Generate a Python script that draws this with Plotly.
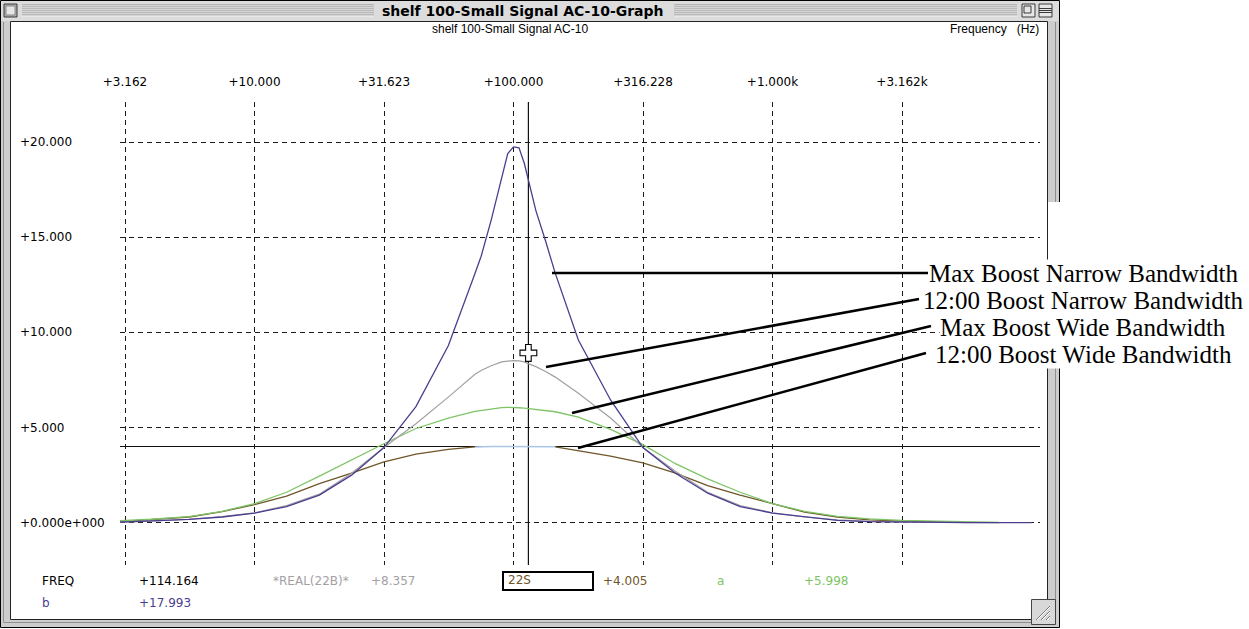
import plotly.graph_objects as go

W, H = 1249, 629

# ---------------- data ----------------
freq_hz = [3.0, 4.0, 5.6, 7.5, 10, 13.3, 17.8, 23.7, 31.6, 42, 56, 71, 75, 82, 90, 95,
           100, 105, 110, 114, 122, 133, 145, 178, 237, 316, 422, 562, 750, 1000,
           1330, 1780, 2370, 3162, 4220, 5620, 7500, 10000]

max_boost_narrow = [0.03, 0.08, 0.17, 0.30, 0.50, 0.85, 1.45, 2.50, 3.95, 6.10, 9.30, 13.1, 14.0,
                    15.9, 18.1, 19.4, 19.75, 19.7, 18.9, 17.99, 16.4, 14.8, 13.1, 9.6, 6.45,
                    3.95, 2.60, 1.55, 0.85, 0.50, 0.30, 0.12, 0.06, 0.03, 0.01, 0.0, 0.0, 0.0]

noon_boost_narrow = [0.03, 0.08, 0.18, 0.32, 0.52, 0.90, 1.50, 2.60, 3.95, 5.20, 6.60, 7.80, 8.00,
                     8.25, 8.45, 8.50, 8.52, 8.50, 8.45, 8.357, 8.20, 7.95, 7.65, 6.80, 5.50,
                     3.95, 2.70, 1.60, 0.90, 0.52, 0.30, 0.15, 0.07, 0.03, 0.01, 0.0, 0.0, None]

max_boost_wide = [0.10, 0.18, 0.32, 0.60, 1.00, 1.60, 2.45, 3.30, 4.15, 4.95, 5.50, 5.85, 5.90,
                  6.00, 6.05, 6.06, 6.06, 6.04, 6.02, 5.998, 5.95, 5.90, 5.83, 5.55, 4.90,
                  4.10, 3.10, 2.30, 1.60, 1.00, 0.60, 0.33, 0.20, 0.12, 0.08, 0.05, 0.02, None]

noon_boost_wide = [0.05, 0.15, 0.30, 0.58, 0.95, 1.40, 2.05, 2.60, 3.20, 3.60, 3.85, 3.98, 4.00,
                   4.00, 4.00, 4.00, 4.00, 4.00, 4.00, 4.005, 4.00, 4.00, 3.99, 3.80, 3.50,
                   3.15, 2.60, 1.95, 1.45, 1.00, 0.55, 0.30, 0.15, 0.08, 0.04, 0.02, None, None]

highlight_lo_hz, highlight_hi_hz = 71, 145   # selected (light blue) part of the 12:00 wide trace

x_tick_vals = [3.16228, 10, 31.6228, 100, 316.228, 1000, 3162.28]
x_tick_text = ["+3.162", "+10.000", "+31.623", "+100.000", "+316.228", "+1.000k", "+3.162k"]
y_tick_vals = [0, 5, 10, 15, 20]
y_tick_text = ["+0.000e+000", "+5.000", "+10.000", "+15.000", "+20.000"]

cursor_freq = 114.164
cursor_level = 4.005
pointer_level = 8.92

series_names = ["Max Boost Narrow Bandwidth", "12:00 Boost Narrow Bandwidth",
                "Max Boost Wide Bandwidth", "12:00 Boost Wide Bandwidth"]

# ---------------- styles ----------------
C_PURPLE = "#4b3d8f"
C_GRAY = "#a39fa3"
C_GREEN = "#7ec466"
C_BROWN = "#6e5628"
C_BLUE = "#a9c6e6"
UI_FONT = "DejaVu Sans"

# plot area in pixels
PX0, PX1, PY0, PY1 = 120, 1040, 102, 565
LOG_AT_PX = lambda px: 0.5 + (px - 125) / 259.0
VAL_AT_PY = lambda py: (522.7 - py) / 19.03


def fx(px):
    return px / W


def fy(py):
    return 1 - py / H


fig = go.Figure()

# split the 12:00-wide trace into its normal and highlighted part
noon_normal = [v if not (highlight_lo_hz < f < highlight_hi_hz) else None
               for f, v in zip(freq_hz, noon_boost_wide)]
noon_sel_f = [f for f in freq_hz if highlight_lo_hz <= f <= highlight_hi_hz]
noon_sel_v = [v for f, v in zip(freq_hz, noon_boost_wide) if highlight_lo_hz <= f <= highlight_hi_hz]

fig.add_trace(go.Scatter(x=freq_hz, y=noon_normal, mode="lines", name=series_names[3],
                         line=dict(color=C_BROWN, width=1.3), connectgaps=False))
fig.add_trace(go.Scatter(x=noon_sel_f, y=noon_sel_v, mode="lines", showlegend=False,
                         line=dict(color=C_BLUE, width=1.5)))
fig.add_trace(go.Scatter(x=freq_hz, y=max_boost_wide, mode="lines", name=series_names[2],
                         line=dict(color=C_GREEN, width=1.3)))
fig.add_trace(go.Scatter(x=freq_hz, y=noon_boost_narrow, mode="lines", name=series_names[1],
                         line=dict(color=C_GRAY, width=1.2)))
fig.add_trace(go.Scatter(x=freq_hz, y=max_boost_narrow, mode="lines", name=series_names[0],
                         line=dict(color=C_PURPLE, width=1.3)))
# mouse pointer cross
fig.add_trace(go.Scatter(x=[cursor_freq], y=[pointer_level], mode="markers", showlegend=False,
                         marker=dict(symbol="cross", size=14, color="white",
                                     line=dict(color="black", width=1.1))))

shapes = []


def rect(x0, y0, x1, y1, fill, line="rgba(0,0,0,0)", lw=1, layer="below"):
    shapes.append(dict(type="rect", xref="paper", yref="paper", x0=fx(x0), x1=fx(x1),
                       y0=fy(y1), y1=fy(y0), fillcolor=fill, line=dict(color=line, width=lw),
                       layer=layer))


def pline(x0, y0, x1, y1, color, lw=1, layer="below"):
    shapes.append(dict(type="line", xref="paper", yref="paper", x0=fx(x0), x1=fx(x1),
                       y0=fy(y0), y1=fy(y1), line=dict(color=color, width=lw), layer=layer))


# ---- window chrome ----
rect(0.5, 0.5, 1059.5, 627.5, "#cdcdcd", "#000000", 1)
rect(1, 1, 1059, 21, "#dcdcdc")
for yy in [5, 7, 9, 11, 13, 15]:
    pline(22, yy, 374, yy, "#8a8a8a", 1)
    pline(674, yy, 1017, yy, "#8a8a8a", 1)
    pline(22, yy + 1, 374, yy + 1, "#f4f4f4", 1)
    pline(674, yy + 1, 1017, yy + 1, "#f4f4f4", 1)
# close box
rect(4, 4, 17, 17, "#b0b0b0", "#3a3a3a", 1)
rect(6, 6, 15, 15, "#e6e6e6", "#8a8a8a", 1)
# zoom box
rect(1022, 4, 1035, 17, "#e6e6e6", "#3a3a3a", 1)
rect(1024, 6, 1031, 13, "rgba(0,0,0,0)", "#3a3a3a", 1)
# collapse box
rect(1039, 4, 1052, 17, "#e6e6e6", "#3a3a3a", 1)
pline(1039, 10.5, 1052, 10.5, "#3a3a3a", 1)
pline(1039, 8.5, 1052, 8.5, "#3a3a3a", 1)
pline(1039, 12.5, 1052, 12.5, "#3a3a3a", 1)
# frame lines
pline(3.5, 22, 3.5, 622, "#8e8e8e", 1)
pline(1055.5, 22, 1055.5, 622, "#8e8e8e", 1)
pline(3.5, 622.5, 1055.5, 622.5, "#8e8e8e", 1)
# content area
rect(10.5, 21.5, 1047.5, 619.5, "#ffffff", "#222222", 1)
# resize grip
rect(1031.5, 599.5, 1055.5, 624.5, "#d8d8d8", "#444444", 1)
for k in range(3):
    pline(1036 + 5 * k, 620, 1050, 606 + 5 * k, "#7a7a7a", 1)
    pline(1037 + 5 * k, 620, 1050, 607 + 5 * k, "#ffffff", 1)

# 22S readout box
rect(503, 572, 593, 590, "rgba(0,0,0,0)", "#000000", 2, "above")

# white patch behind the right-hand labels (covers the window border)
rect(1048, 202, 1249, 336, "#ffffff", "rgba(0,0,0,0)", 0, "above")

# ---- cursors ----
shapes.append(dict(type="line", xref="x", yref="y domain", x0=cursor_freq, x1=cursor_freq,
                   y0=0, y1=1, line=dict(color="#111111", width=1.2), layer="below"))
shapes.append(dict(type="line", xref="x domain", yref="y", x0=0, x1=1, y0=cursor_level,
                   y1=cursor_level, line=dict(color="#111111", width=1.2), layer="below"))

# ---- leader lines (start on the curve, end at the label) ----
leader_lines = [
    ((552, 273), (928, 273)),
    ((546, 367), (919, 299)),
    ((572, 413), (931, 326)),
    ((578, 448), (926, 353)),
]
for (ax, ay), (bx, by) in leader_lines:
    shapes.append(dict(type="line", xref="x", yref="y",
                       x0=10 ** LOG_AT_PX(ax), y0=VAL_AT_PY(ay),
                       x1=10 ** LOG_AT_PX(bx), y1=VAL_AT_PY(by),
                       line=dict(color="#000000", width=2.6), layer="above"))

annotations = []

# window title + subtitle
annotations.append(dict(text="<b>shelf 100-Small Signal AC-10-Graph</b>", xref="paper", yref="paper",
                        x=fx(523), y=fy(11), xanchor="center", yanchor="middle", showarrow=False,
                        font=dict(family=UI_FONT, size=14, color="#000000")))
annotations.append(dict(text="shelf 100-Small Signal AC-10", xref="paper", yref="paper",
                        x=fx(510), y=fy(29), xanchor="center", yanchor="middle", showarrow=False,
                        font=dict(family="Liberation Sans", size=12, color="#000000")))
annotations.append(dict(text="Frequency&nbsp;&nbsp;&nbsp;(Hz)", xref="paper", yref="paper",
                        x=fx(1041), y=fy(29), xanchor="right", yanchor="middle", showarrow=False,
                        font=dict(family="Liberation Sans", size=12, color="#000000")))

# y tick labels (left aligned like the original)
for v, t in zip(y_tick_vals, y_tick_text):
    annotations.append(dict(text=t, xref="paper", yref="y", x=fx(18), y=v, xanchor="left",
                            yanchor="middle", showarrow=False,
                            font=dict(family=UI_FONT, size=12, color="#000000")))

# series labels
label_y = [273, 300, 327, 354]
for name, ly in zip(series_names, label_y):
    annotations.append(dict(text=name, xref="paper", yref="paper", x=fx(1083), y=fy(ly),
                            xanchor="center", yanchor="middle", showarrow=False,
                            bgcolor="#ffffff", borderpad=0,
                            font=dict(family="Liberation Serif", size=25, color="#000000")))

# readouts
readout_text = ["FREQ", "+114.164", "*REAL(22B)*", "+8.357", "22S", "+4.005", "a", "+5.998",
                "b", "+17.993"]
readout_color = ["#000000", "#000000", C_GRAY, C_GRAY, C_BROWN, C_BROWN, C_GREEN, C_GREEN,
                 C_PURPLE, C_PURPLE]
readout_pos = [(40, 581), (137, 581), (271, 581), (369, 581), (506, 580), (601, 581),
               (715, 581), (802, 581), (40, 603), (137, 603)]
for t, c, (rx, ry) in zip(readout_text, readout_color, readout_pos):
    annotations.append(dict(text=t, xref="paper", yref="paper", x=fx(rx), y=fy(ry),
                            xanchor="left", yanchor="middle", showarrow=False,
                            font=dict(family=UI_FONT, size=12, color=c)))

fig.update_layout(
    width=W, height=H, autosize=False,
    margin=dict(l=0, r=0, t=0, b=0, pad=0, autoexpand=False),
    paper_bgcolor="#ffffff", plot_bgcolor="rgba(0,0,0,0)",
    showlegend=False, shapes=shapes, annotations=annotations,
    xaxis=dict(type="log", domain=[fx(PX0), fx(PX1)],
               range=[LOG_AT_PX(PX0), LOG_AT_PX(PX1)],
               side="top", tickmode="array", tickvals=x_tick_vals, ticktext=x_tick_text,
               ticks="", ticklabelstandoff=13, automargin=False,
               tickfont=dict(family=UI_FONT, size=12, color="#000000"),
               showgrid=True, gridcolor="#1a1a1a", gridwidth=1, griddash="5px,4px",
               zeroline=False, showline=False, fixedrange=True),
    yaxis=dict(domain=[fy(PY1), fy(PY0)], range=[VAL_AT_PY(PY1), VAL_AT_PY(PY0)],
               tickmode="array", tickvals=y_tick_vals, showticklabels=False, ticks="",
               automargin=False,
               showgrid=True, gridcolor="#1a1a1a", gridwidth=1, griddash="5px,4px",
               zeroline=False, showline=False, fixedrange=True),
)

fig.write_html("out.html", config={"displayModeBar": False, "responsive": False},
               post_script="document.body.style.margin='0';document.body.style.overflow='hidden';")
